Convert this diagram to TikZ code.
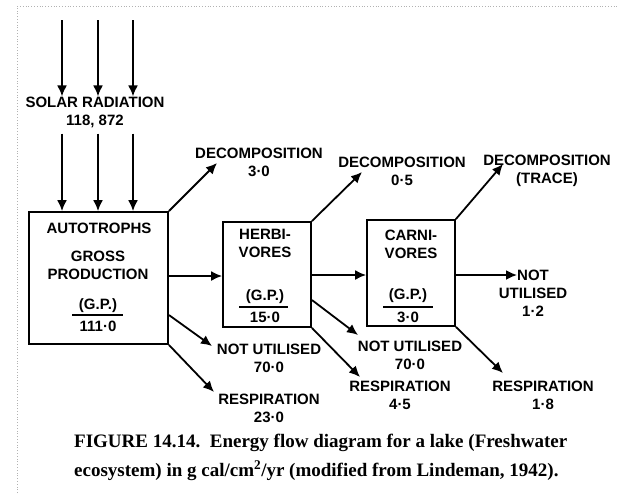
\documentclass[tikz,border=0pt]{standalone}
\usepackage{fontspec}
\setmainfont{Liberation Serif}
\newfontfamily\lsans{Liberation Sans}
\usetikzlibrary{arrows.meta}
\begin{document}
\begin{tikzpicture}[x=1pt,y=-1pt,
  lbl/.style={font=\lsans\bfseries\fontsize{15}{18}\selectfont, align=center, inner sep=0pt},
  boxst/.style={draw, line width=1.8pt, inner sep=0pt},
  flow/.style={line width=1.8pt, -{Latex[length=11pt,width=10pt]}},
  frac/.style={line width=1.3pt},
  capt/.style={font=\bfseries\fontsize{19}{29}\selectfont, align=left, inner sep=0pt, anchor=west}]
\useasboundingbox (0,0) rectangle (618,493);
% scan frame
\draw[gray!60, line width=0.8pt, dotted] (17,493) -- (17,6) -- (618,6);
% solar radiation
\node[lbl] (solar) at (95,112) {SOLAR RADIATION\\118, 872};
\foreach \i/\x in {1/62,2/98,3/133}{
  \coordinate (s\i) at (\x,20);
  \draw[flow] (s\i) -- (s\i |- solar.north);
}
% boxes
\node[boxst, minimum width=139pt, minimum height=132pt] (auto) at (98.5,278) {};
\node[boxst, minimum width=88pt, minimum height=105pt] (herb) at (267,274.5) {};
\node[boxst, minimum width=88pt, minimum height=106pt] (carn) at (411,273) {};
\foreach \i/\x in {1/62,2/98,3/133}{
  \draw[flow] (solar.south -| s\i) ++(0,6) -- (auto.north -| s\i);
}
% box texts
\node[lbl] (a1) at (99,228) {AUTOTROPHS};
\node[lbl] (a2) at (98,265.5) {GROSS\\PRODUCTION};
\node[lbl] (a3) at (98,306) {(G.P.)};
\node[lbl] (a4) at (98,326) {111·0};
\draw[frac] (72,315) -- (123,315);
\node[lbl] (h1) at (265,243.5) {HERBI-\\VORES};
\node[lbl] (h3) at (265,297) {(G.P.)};
\node[lbl] (h4) at (265,317) {15·0};
\draw[frac] (239,307) -- (288,307);
\node[lbl] (c1) at (411,244.5) {CARNI-\\VORES};
\node[lbl] (c3) at (408,296) {(G.P.)};
\node[lbl] (c4) at (408,317) {3·0};
\draw[frac] (383,307) -- (433,307);
% outcome labels
\node[lbl] (d1) at (259,162) {DECOMPOSITION\\3·0};
\node[lbl] (n1) at (269,358.5) {NOT UTILISED\\70·0};
\node[lbl] (r1) at (269,408) {RESPIRATION\\23·0};
\node[lbl] (d2) at (402,171) {DECOMPOSITION\\0·5};
\node[lbl] (n2) at (410,355) {NOT UTILISED\\70·0};
\node[lbl] (r2) at (400,395) {RESPIRATION\\4·5};
\node[lbl] (d3) at (547,171) {DECOMPOSITION\\(TRACE)};
\node[lbl] (n3) at (533,293) {NOT\\UTILISED\\1·2};
\node[lbl] (r3) at (543,395) {RESPIRATION\\1·8};
% arrow tips
\coordinate (t1) at (217,163);
\coordinate (t2) at (212,346);
\coordinate (t3) at (214,392);
\coordinate (t4) at (362,172);
\coordinate (t5) at (358,335);
\coordinate (t6) at (360,377);
\coordinate (t7) at (503,164);
\coordinate (t8) at (517,275);
\coordinate (t9) at (503,373);
% flows
\draw[flow] (auto.north east) -- (t1);
\draw[flow] (auto.east |- 0,276) -- (herb.west |- 0,276);
\draw[flow] (auto.east |- 0,315) -- (t2);
\draw[flow] (auto.south east) -- (t3);
\draw[flow] (herb.north east) -- (t4);
\draw[flow] (herb.east |- 0,275) -- (carn.west |- 0,275);
\draw[flow] (herb.east |- 0,300) -- (t5);
\draw[flow] (herb.south east) -- (t6);
\draw[flow] (carn.north east) -- (t7);
\draw[flow] (carn.east |- t8) -- (t8);
\draw[flow] (carn.south east) -- (t9);
% caption
\node[capt] (cap) at (74,457) {FIGURE 14.14.\ \ Energy flow diagram for a lake (Freshwater\\ecosystem) in g cal/cm$^{\mathbf{2}}$/yr (modified from Lindeman, 1942).};
\end{tikzpicture}
\end{document}
